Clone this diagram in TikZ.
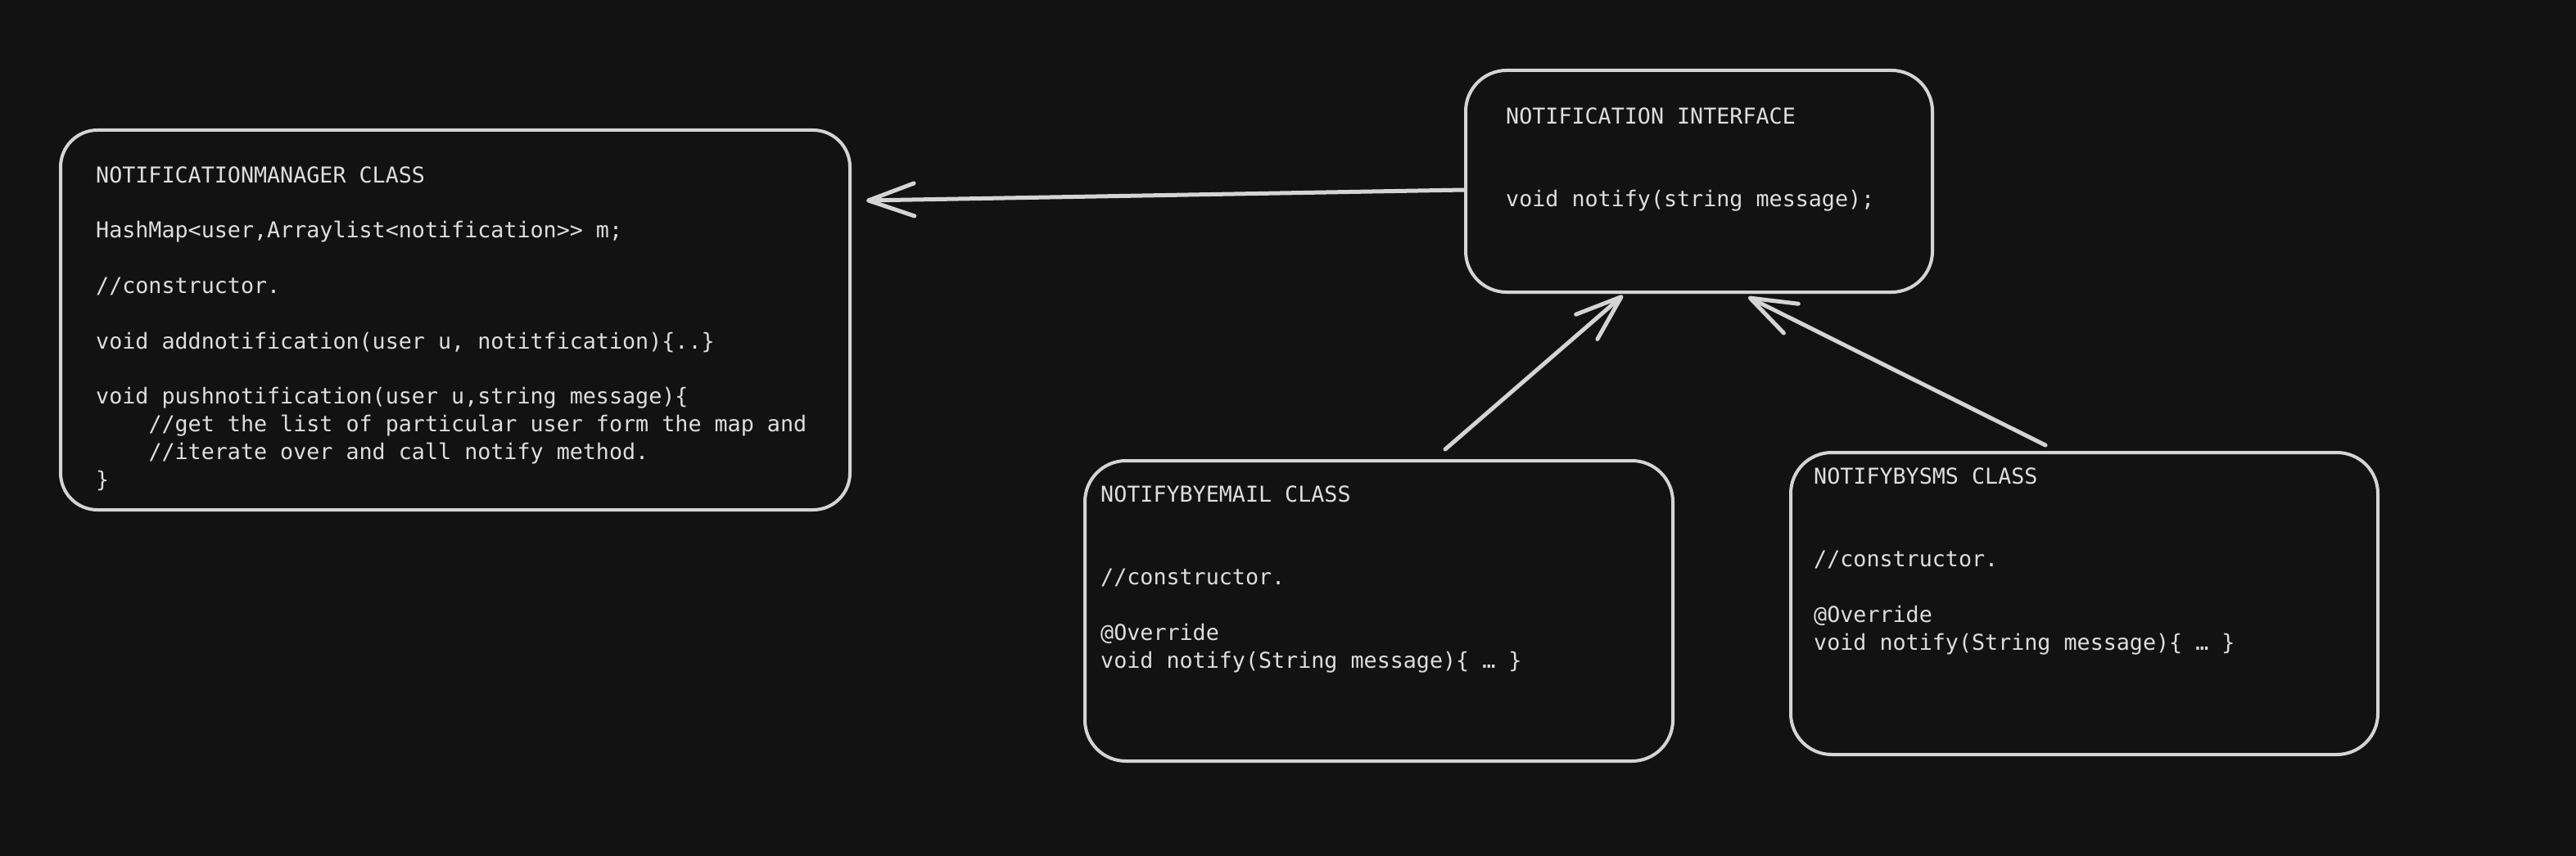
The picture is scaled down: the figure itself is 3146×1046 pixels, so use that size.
\documentclass[tikz,border=0pt]{standalone}
\usepackage{fontspec}
\newfontfamily\mono{DejaVu Sans Mono}
\usetikzlibrary{arrows.meta}
\definecolor{bg}{HTML}{121212}
\definecolor{ink}{HTML}{D4D4D4}
\definecolor{txt}{HTML}{DEDEDE}
\begin{document}
\begin{tikzpicture}[x=1pt,y=-1pt,
  clsbox/.style={draw=ink, fill=bg, line width=4pt, rounded corners=45pt, inner sep=0pt},
  codetext/.style={anchor=north west, inner sep=0pt, align=left, text=txt,
    font={\mono\fontsize{26.7pt}{33.8pt}\selectfont}},
  connector/.style={draw=ink, line width=5pt, line cap=round, line join=round,
    -{Straight Barb[length=56pt,width=40pt,round]}}]
\useasboundingbox (0,0) rectangle (3146,1046);
\fill[bg] (0,0) rectangle (3146,1046);

% boxes
\node[clsbox, minimum width=964pt, minimum height=464pt] (mgr) at (556,391) {};
\node[clsbox, minimum width=570pt, minimum height=271pt, rounded corners=50pt] (intf) at (2075,221.5) {};
\node[clsbox, minimum width=718pt, minimum height=367pt, rounded corners=50pt] (email) at (1684,746.5) {};
\node[clsbox, minimum width=717pt, minimum height=369pt, rounded corners=50pt] (sms) at (2545.5,737.5) {};

% texts
\node[codetext] (mgrtxt) at (117,199) {\rule{0pt}{24pt}NOTIFICATIONMANAGER CLASS\\[33.8pt]
HashMap<user,Arraylist<notification>\kern0pt> m;\\[33.8pt]
//constructor.\\[33.8pt]
void addnotification(user u, notitfication)\{..\}\\[33.8pt]
void pushnotification(user u,string message)\{\\
\hphantom{0000}//get the list of particular user form the map and\\
\hphantom{0000}//iterate over and call notify method.\\
\}};

\node[codetext] (intftxt) at (1839,127) {\rule{0pt}{24pt}NOTIFICATION INTERFACE\\[67.6pt]
void notify(string message);};

\node[codetext] (emailtxt) at (1344,589) {\rule{0pt}{24pt}NOTIFYBYEMAIL CLASS\\[67.6pt]
//constructor.\\[33.8pt]
@Override\\
void notify(String message)\{ … \}};

\node[codetext] (smstxt) at (2215,567) {\rule{0pt}{24pt}NOTIFYBYSMS CLASS\\[67.6pt]
//constructor.\\[33.8pt]
@Override\\
void notify(String message)\{ … \}};

% connector end points
\coordinate (a1s) at (1788,232);
\coordinate (a1e) at (1058,245);
\coordinate (a2s) at (1765,549);
\coordinate (a2e) at (1982,361);
\coordinate (a3s) at (2498,544);
\coordinate (a3e) at (2135,363);

\draw[connector] (a1s) -- (a1e);
\draw[connector] (a2s) -- (a2e);
\draw[connector] (a3s) -- (a3e);
\end{tikzpicture}
\end{document}
